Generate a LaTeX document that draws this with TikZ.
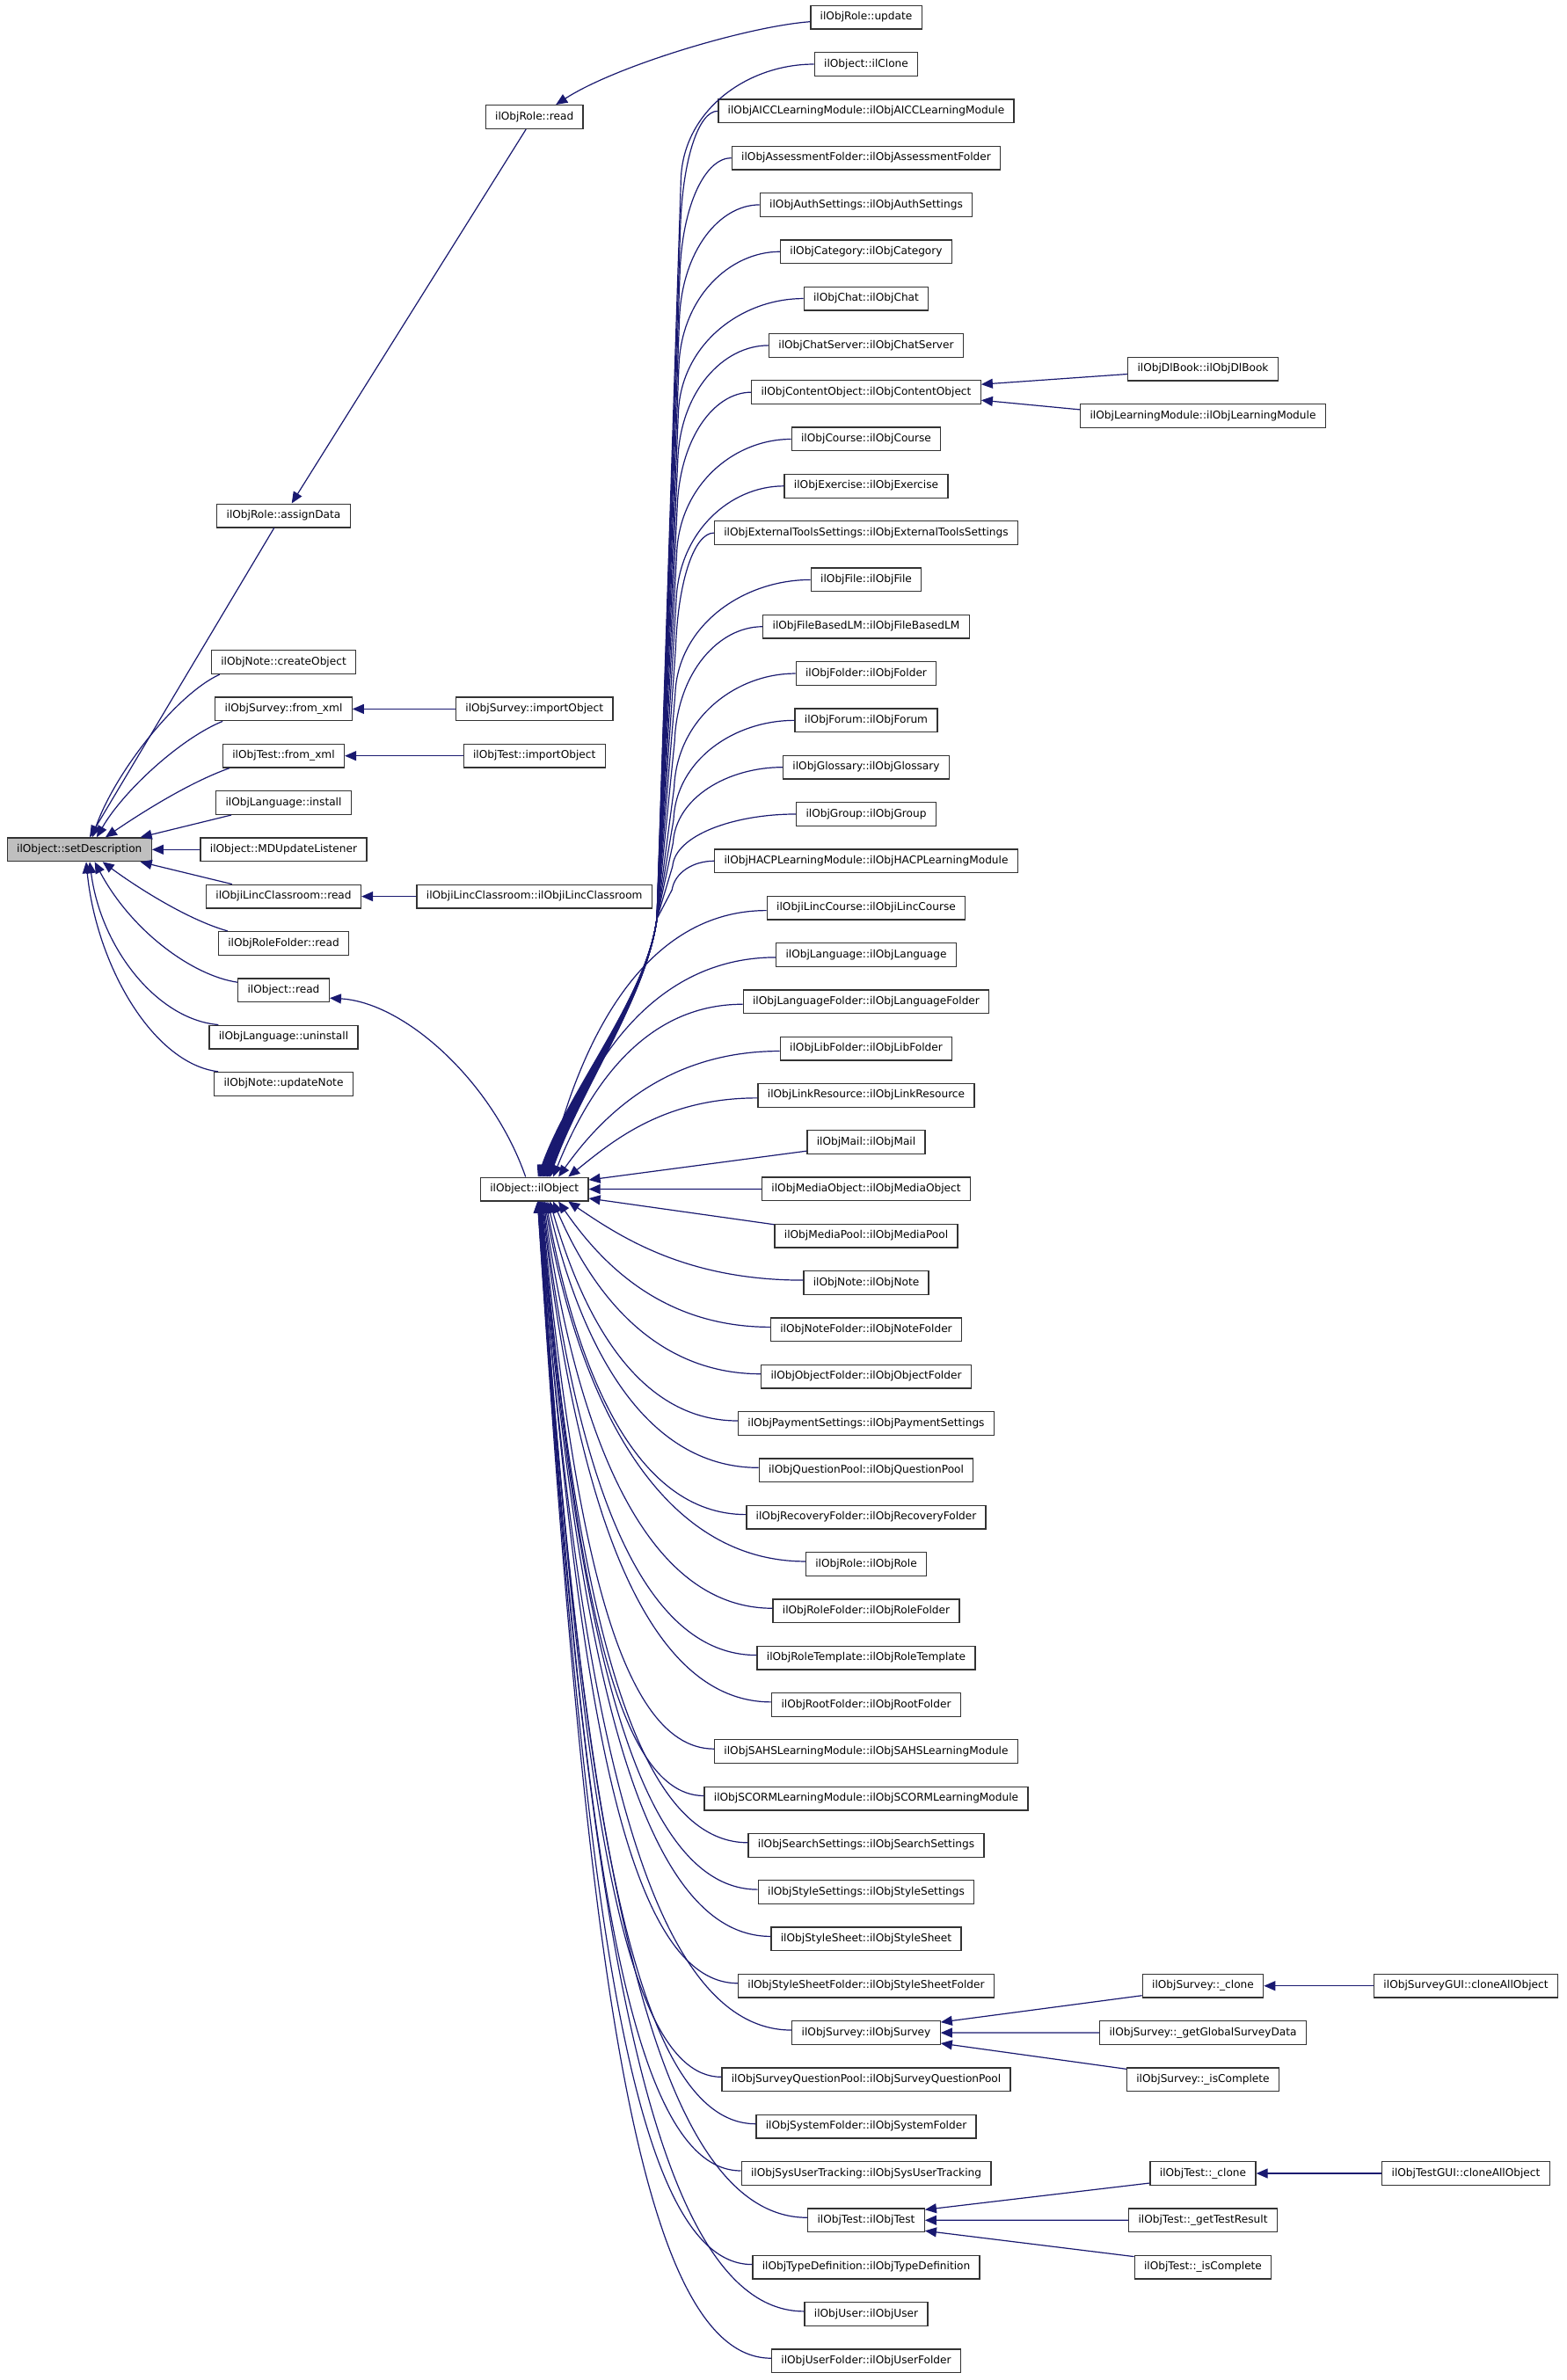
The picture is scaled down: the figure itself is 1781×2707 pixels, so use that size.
\documentclass[tikz,border=0pt]{standalone}
\usepackage{fontspec}
\setmainfont{DejaVu Sans}
\usetikzlibrary{arrows.meta,calc}
\definecolor{edgec}{RGB}{25,25,112}
\definecolor{sdfill}{RGB}{191,191,191}
\begin{document}
\begin{tikzpicture}[x=1pt,y=1pt,
  box/.style={draw=black!80, line width=1.3pt, fill=white, font=\fontsize{12.15}{14}\selectfont,
    inner xsep=10.85pt, inner ysep=0pt, minimum height=26.7pt, text height=9.2pt, text depth=2.9pt},
  edge/.style={draw=edgec, line width=1.2pt, -{Triangle[length=13pt,width=11pt]}}]
\fill[white] (0,0) rectangle (1781,-2707);
\useasboundingbox (0,0) rectangle (1781,-2707);

% column A / B
\node[box, fill=sdfill] (sd) at (90.3,-966.3) {ilObject::setDescription};
\node[box] (ad)   at (322.5,-586.5)  {ilObjRole::assignData};
\node[box] (co)   at (322.5,-753.1)  {ilObjNote::createObject};
\node[box] (sfx)  at (322.5,-806.4)  {ilObjSurvey::from\_xml};
\node[box] (tfx)  at (322.5,-859.7)  {ilObjTest::from\_xml};
\node[box] (inst) at (322.5,-913.0)  {ilObjLanguage::install};
\node[box] (md)   at (322.5,-966.3)  {ilObject::MDUpdateListener};
\node[box] (ilr)  at (322.5,-1019.6) {ilObjiLincClassroom::read};
\node[box] (rfr)  at (322.5,-1072.9) {ilObjRoleFolder::read};
\node[box] (ord)  at (322.5,-1126.2) {ilObject::read};
\node[box] (unin) at (322.5,-1179.5) {ilObjLanguage::uninstall};
\node[box] (upn)  at (322.5,-1232.8) {ilObjNote::updateNote};
% column C
\node[box] (rr)   at (607.7,-133)    {ilObjRole::read};
\node[box] (sio)  at (607.7,-806.4)  {ilObjSurvey::importObject};
\node[box] (tio)  at (607.7,-859.7)  {ilObjTest::importObject};
\node[box] (ilc)  at (607.7,-1019.6) {ilObjiLincClassroom::ilObjiLincClassroom};
\node[box] (ilobj) at (607.7,-1352.5) {ilObject::ilObject};
% column D
\foreach \i/\t in {0/{ilObjRole::update},1/{ilObject::ilClone},
 2/{ilObjAICCLearningModule::ilObjAICCLearningModule},
 3/{ilObjAssessmentFolder::ilObjAssessmentFolder},
 4/{ilObjAuthSettings::ilObjAuthSettings},
 5/{ilObjCategory::ilObjCategory},
 6/{ilObjChat::ilObjChat},
 7/{ilObjChatServer::ilObjChatServer},
 8/{ilObjContentObject::ilObjContentObject},
 9/{ilObjCourse::ilObjCourse},
 10/{ilObjExercise::ilObjExercise},
 11/{ilObjExternalToolsSettings::ilObjExternalToolsSettings},
 12/{ilObjFile::ilObjFile},
 13/{ilObjFileBasedLM::ilObjFileBasedLM},
 14/{ilObjFolder::ilObjFolder},
 15/{ilObjForum::ilObjForum},
 16/{ilObjGlossary::ilObjGlossary},
 17/{ilObjGroup::ilObjGroup},
 18/{ilObjHACPLearningModule::ilObjHACPLearningModule},
 19/{ilObjiLincCourse::ilObjiLincCourse},
 20/{ilObjLanguage::ilObjLanguage},
 21/{ilObjLanguageFolder::ilObjLanguageFolder},
 22/{ilObjLibFolder::ilObjLibFolder},
 23/{ilObjLinkResource::ilObjLinkResource},
 24/{ilObjMail::ilObjMail},
 25/{ilObjMediaObject::ilObjMediaObject},
 26/{ilObjMediaPool::ilObjMediaPool},
 27/{ilObjNote::ilObjNote},
 28/{ilObjNoteFolder::ilObjNoteFolder},
 29/{ilObjObjectFolder::ilObjObjectFolder},
 30/{ilObjPaymentSettings::ilObjPaymentSettings},
 31/{ilObjQuestionPool::ilObjQuestionPool},
 32/{ilObjRecoveryFolder::ilObjRecoveryFolder},
 33/{ilObjRole::ilObjRole},
 34/{ilObjRoleFolder::ilObjRoleFolder},
 35/{ilObjRoleTemplate::ilObjRoleTemplate},
 36/{ilObjRootFolder::ilObjRootFolder},
 37/{ilObjSAHSLearningModule::ilObjSAHSLearningModule},
 38/{ilObjSCORMLearningModule::ilObjSCORMLearningModule},
 39/{ilObjSearchSettings::ilObjSearchSettings},
 40/{ilObjStyleSettings::ilObjStyleSettings},
 41/{ilObjStyleSheet::ilObjStyleSheet},
 42/{ilObjStyleSheetFolder::ilObjStyleSheetFolder},
 43/{ilObjSurvey::ilObjSurvey},
 44/{ilObjSurveyQuestionPool::ilObjSurveyQuestionPool},
 45/{ilObjSystemFolder::ilObjSystemFolder},
 46/{ilObjSysUserTracking::ilObjSysUserTracking},
 47/{ilObjTest::ilObjTest},
 48/{ilObjTypeDefinition::ilObjTypeDefinition},
 49/{ilObjUser::ilObjUser},
 50/{ilObjUserFolder::ilObjUserFolder}}{
  \node[box] (r\i) at (985,{-19.7-53.31*\i}) {\t};
}
% column E / F
\node[box] (db)   at (1368,-419.5)   {ilObjDlBook::ilObjDlBook};
\node[box] (lm)   at (1368,-472.9)   {ilObjLearningModule::ilObjLearningModule};
\node[box] (sc)   at (1368,-2258.7)  {ilObjSurvey::\_clone};
\node[box] (sg)   at (1368,-2312.0)  {ilObjSurvey::\_getGlobalSurveyData};
\node[box] (si)   at (1368,-2365.3)  {ilObjSurvey::\_isComplete};
\node[box] (tc)   at (1368,-2472.0)  {ilObjTest::\_clone};
\node[box] (tg)   at (1368,-2525.3)  {ilObjTest::\_getTestResult};
\node[box] (ti)   at (1368,-2578.6)  {ilObjTest::\_isComplete};
\node[box] (sgui) at (1667,-2258.7)  {ilObjSurveyGUI::cloneAllObject};
\node[box] (tgui) at (1667,-2472.0)  {ilObjTestGUI::cloneAllObject};

\coordinate (pinch) at (747,-1045);

% edges into setDescription
\draw[edge] ($(ad.south)+(-10.8,0)$) -- ($(sd.north west)+(94.3,0)$);
\draw[edge] ($(co.south west)+(10,0)$) .. controls (200,-790) and (130,-880) .. ($(sd.north west)+(97.3,0)$);
\draw[edge] ($(sfx.south west)+(9,0)$) .. controls (205,-840) and (140,-900) .. ($(sd.north west)+(102.3,0)$);
\draw[edge] ($(tfx.south west)+(8,0)$) .. controls (215,-890) and (160,-925) .. ($(sd.north west)+(112.3,0)$);
\draw[edge] ($(inst.south west)+(18,0)$) -- ($(sd.north west)+(152,0)$);
\draw[edge] (md.west) -- (sd.east);
\draw[edge] ($(ilr.north west)+(30,0)$) -- ($(sd.south west)+(152,0)$);
\draw[edge] ($(rfr.north west)+(11,0)$) .. controls (210,-1045) and (150,-1005) .. ($(sd.south west)+(109,0)$);
\draw[edge] ([yshift=9pt]ord.west) .. controls (220,-1110) and (150,-1060) .. ($(sd.south west)+(100,0)$);
\draw[edge] ($(unin.north west)+(11,0)$) .. controls (180,-1160) and (115,-1080) .. ($(sd.south west)+(94.3,0)$);
\draw[edge] ($(upn.north west)+(5,0)$) .. controls (175,-1210) and (110,-1100) .. ($(sd.south west)+(90.3,0)$);

% other left edges
\draw[edge] ($(rr.south)+(-9.5,0)$) -- ($(ad.north)+(9.2,0)$);
\draw[edge] ([yshift=-5pt]r0.west) .. controls (850,-30) and (700,-75) .. ($(rr.north)+(24.5,0)$);
\draw[edge] (sio.west) -- (sfx.east);
\draw[edge] (tio.west) -- (tfx.east);
\draw[edge] (ilc.west) -- (ilr.east);
\draw[edge] ($(ilobj.north)+(-10,0)$) .. controls (560,-1230) and (460,-1140) .. ([yshift=-9pt]ord.east);

% trunk edges rows 1..18
\foreach \i in {1,...,18}{
  \draw[edge] let \p1=(r\i.west), \p2=(ilobj.north),
      \n1={775-0.6*\i},
      \n2={min(130,0.5*(1045+\y1))},
      \n3={611+0.8*\i}
    in (\p1) .. controls ({\n1+0.5*(\x1-\n1)},\y1) and ({\n1+3},{\y1-0.4*\n2}) .. (\n1,{\y1-\n2})
       -- (pinch) .. controls (735,-1135) and ({\n3+35},{\y2+100}) .. (\n3,\y2);
}
% near upper rows 19..23
\foreach \i in {19,...,23}{
  \draw[edge] let \p1=([yshift=-3pt]r\i.west), \p2=(ilobj.north),
      \n1={606+70/((25-\i)^0.8)},
      \n2={\x1-\n1},
      \n3={abs(\y1-\y2)/(abs(\y1-\y2)+300)},
      \n4={abs(\y1-\y2)}
    in (\p1) .. controls ({\x1-(0.45+0.2*\n3)*\n2},\y1) and ({\n1+10+0.3*\n2*(1-\n3)^2+0.03*\n4},{\y2+(0.4+0.25*\n3)*(\y1-\y2)}) .. (\n1,\y2);
}
% lower rows 27..50
\foreach \i in {27,...,50}{
  \draw[edge] let \p1=([yshift=3pt]r\i.west), \p2=(ilobj.south),
      \n1={606+70/((\i-25)^0.8)},
      \n2={\x1-\n1},
      \n3={abs(\y1-\y2)/(abs(\y1-\y2)+300)},
      \n4={abs(\y1-\y2)}
    in (\p1) .. controls ({\x1-(0.45+0.2*\n3)*\n2},\y1) and ({\n1+10+0.3*\n2*(1-\n3)^2+0.03*\n4},{\y2+(0.4+0.25*\n3)*(\y1-\y2)}) .. (\n1,\y2);
}
% rows 24..26
\draw[edge] ([yshift=-10pt]r24.west) -- ([yshift=10.5pt]ilobj.east);
\draw[edge] (r25.west) -- (ilobj.east);
\draw[edge] ([yshift=13pt]r26.west) -- ([yshift=-10.5pt]ilobj.east);

% content object
\draw[edge] ([yshift=-6pt]db.west) -- ([yshift=9pt]r8.east);
\draw[edge] ([yshift=7pt]lm.west) -- ([yshift=-9pt]r8.east);
% survey
\draw[edge] ([yshift=-11pt]sc.west) -- ([yshift=-2pt]r43.north east);
\draw[edge] (sg.west) -- (r43.east);
\draw[edge] ([yshift=12pt]si.west) -- ([yshift=2pt]r43.south east);
\draw[edge] (sgui.west) -- (sc.east);
% test
\draw[edge] ([yshift=-11pt]tc.west) -- ([yshift=-2pt]r47.north east);
\draw[edge] (tg.west) -- (r47.east);
\draw[edge] ([yshift=12pt]ti.west) -- ([yshift=2pt]r47.south east);
\draw[edge] (tgui.west) -- (tc.east);
\end{tikzpicture}
\end{document}
